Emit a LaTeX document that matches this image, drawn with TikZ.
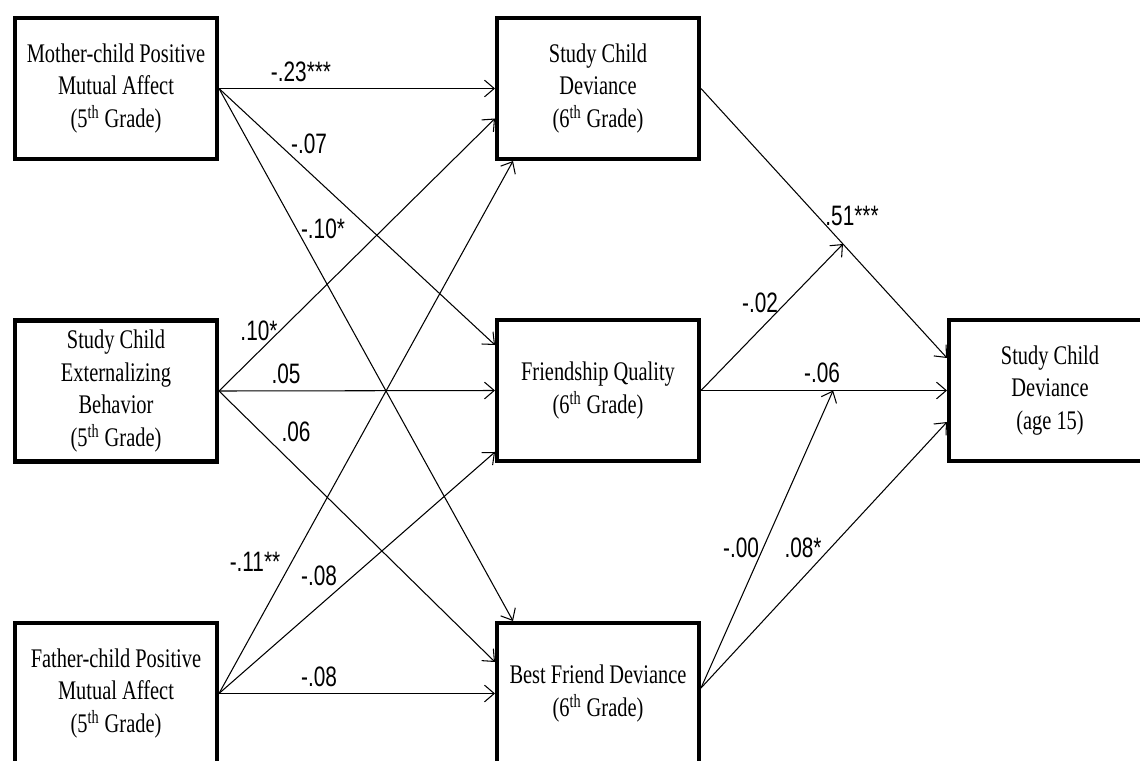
\documentclass[tikz,border=0pt]{standalone}
\usepackage{fontspec}
\usepackage{tikz}
\usetikzlibrary{arrows.meta,positioning}

\newfontfamily\boxfont[FakeStretch=0.76]{Liberation Serif}
\newfontfamily\coeffont[FakeStretch=0.74]{Liberation Sans}

\begin{document}
\begin{tikzpicture}[
    x=0.02cm, y=-0.02cm,
    >={Straight Barb[length=5.5pt,width=9.5pt]},
    var/.style={rectangle, draw, line width=2.3pt, fill=white, minimum width=4.04cm, minimum height=2.82cm, inner sep=0pt, align=center, font=\boxfont\fontsize{15.3pt}{18.7pt}\selectfont},
    coef/.style={inner sep=0pt, anchor=base, font=\coeffont\fontsize{16pt}{18pt}\selectfont},
    path/.style={->, line width=0.6pt},
  ]

  \useasboundingbox (0,0) rectangle (1140,761);
  \clip (0,0) rectangle (1140,761);

  %% ===== 5th GRADE (left) =====
  \node[var] (mother) at (116, 88.5)  {Mother-child Positive\\Mutual Affect\\(5\textsuperscript{th} Grade)};
  \node[var] (ext)    at (116, 391)   {Study Child\\Externalizing\\Behavior\\(5\textsuperscript{th} Grade)};
  \node[var] (father) at (116, 693.5) {Father-child Positive\\Mutual Affect\\(5\textsuperscript{th} Grade)};

  %% ===== 6th GRADE (middle) =====
  \node[var] (scd6)   at (598, 88.5)  {Study Child\\Deviance\\(6\textsuperscript{th} Grade)};
  \node[var] (friend) at (598, 390.5) {Friendship Quality\\(6\textsuperscript{th} Grade)};
  \node[var] (bfd)    at (598, 693.5) {Best Friend Deviance\\(6\textsuperscript{th} Grade)};

  %% ===== AGE 15 (right) =====
  \node[var] (age)    at (1050, 390.5) {Study Child\\Deviance\\(age 15)};

  %% ===== PATHS =====
  %% from mother-child affect
  \draw[path] (mother.east) -- (scd6.west);
  \draw[path] (mother.east) -- ([yshift=0.91cm]friend.west);
  \draw[path] (mother.east) -- ([xshift=-1.7cm]bfd.north);

  %% from externalizing behavior
  \draw[path] (ext.east) -- ([yshift=-0.6cm]scd6.west);
  \draw[path] (ext.east) -- (friend.west);
  \draw[path] (ext.east) -- ([yshift=0.63cm]bfd.west);

  %% from father-child affect
  \draw[path] (father.east) -- ([xshift=-1.7cm]scd6.south);
  \draw[path] (father.east) -- ([yshift=-1.23cm]friend.west);
  \draw[path] (father.east) -- (bfd.west);

  %% into age 15 (moderating paths end on the lines)
  \draw[path] (scd6.east) -- coordinate[pos=0.577] (on51) ([yshift=0.65cm]age.west);
  \draw[path] (friend.east) -- (on51);
  \draw[path] (friend.east) -- coordinate[pos=0.537] (on06) (age.west);
  \draw[path] ([yshift=0.11cm]bfd.east) -- (on06);
  \draw[path] ([yshift=0.11cm]bfd.east) -- ([yshift=-0.63cm]age.west);

  %% ===== COEFFICIENTS =====
  \node[coef] (b23)  at (301, 81)  {-.23***};
  \node[coef] (b07)  at (309, 153) {-.07};
  \node[coef] (b10m) at (323, 238) {-.10*};
  \node[coef] (b10e) at (259, 340) {.10*};
  \node[coef] (b05)  at (286, 383) {.05};
  \node[coef] (b06)  at (296, 441) {.06};
  \node[coef] (b11)  at (255, 571) {-.11**};
  \node[coef] (b08f) at (319, 585) {-.08};
  \node[coef] (b08b) at (319, 686) {-.08};
  \node[coef] (b51)  at (852, 225) {.51***};
  \node[coef] (b02)  at (760, 312) {-.02};
  \node[coef] (b06a) at (822, 382) {-.06};
  \node[coef] (b00)  at (741, 557) {-.00};
  \node[coef] (b08s) at (803, 557) {.08*};

\end{tikzpicture}
\end{document}
